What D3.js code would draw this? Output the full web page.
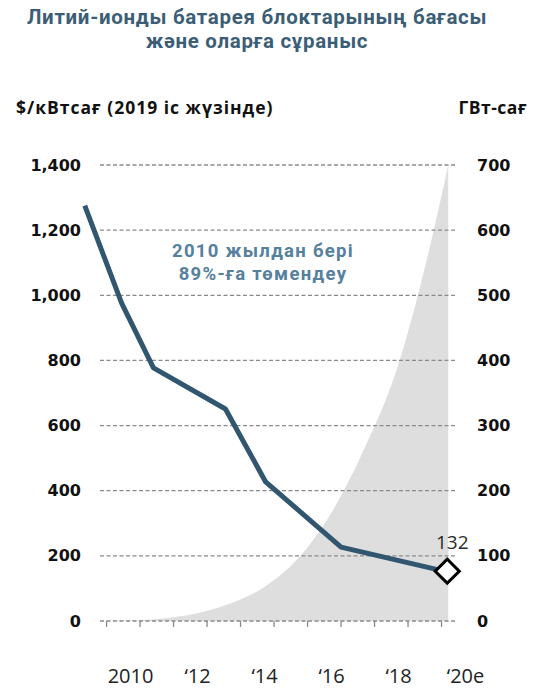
<!DOCTYPE html>
<html>
<head>
<meta charset="utf-8">
<script src="https://cdn.jsdelivr.net/npm/d3@7"></script>
<style>
  body { margin: 0; background: #fff; }
  svg { display: block; font-family: 'Open Sans', sans-serif; }
</style>
</head>
<body>
<svg id="chart" width="535" height="692"></svg>
<script>
const priceYears = [2008.65, 2009.75, 2010.7, 2012.85, 2014.05, 2016.3, 2019.5];
const priceValues = [1275, 976, 777, 651, 427, 227, 150];
const lastPriceLabel = '132';

// Demand, GWh (grey area)
const demandYears = [2008.6, 2010, 2011, 2012, 2013, 2014, 2015, 2016, 2017, 2018, 2019, 2019.5];
const demandValues = [0, 1, 4, 12, 27, 52, 95, 165, 265, 392, 585, 700];

const leftTicks = [0, 200, 400, 600, 800, 1000, 1200, 1400];
const rightTicks = [0, 100, 200, 300, 400, 500, 600, 700];
const tickYears = [2010, 2011, 2012, 2013, 2014, 2015, 2016, 2017, 2018, 2019, 2020];
const labelYears = [2010, 2012, 2014, 2016, 2018, 2020];
const labelTexts = ['2010', '\u201812', '\u201814', '\u201816', '\u201818', '\u201820e'];

const titleLines = ['Литий-ионды батарея блоктарының бағасы', 'және оларға сұраныс'];
const leftTitle = '$/кВтсағ (2019 іс жүзінде)';
const rightTitle = 'ГВт-сағ';
const noteLines = ['2010 жылдан бері', '89%-ға төмендеу'];

const svg = d3.select('#chart');
const numFont = "'DejaVu Sans', sans-serif";
const headFont = "Roboto, 'Open Sans', sans-serif";

const gridLeft = 100, gridRight = 457;
const x = d3.scaleLinear().domain([2010, 2020]).range([130, 465]);
const yLeft = d3.scaleLinear().domain([0, 1400]).range([621, 165]);
const yRight = d3.scaleLinear().domain([0, 700]).range([621, 165]);

// Title
svg.append('g').selectAll('text')
    .data(titleLines)
    .join('text')
    .attr('x', 257)
    .attr('y', (d, i) => 24 + i * 24)
    .attr('text-anchor', 'middle')
    .attr('fill', '#3b5e76')
    .style('font-family', headFont)
    .style('font-size', '20.5px')
    .style('font-weight', 700)
    .style('letter-spacing', '0.7px')
    .text(d => d);

// Axis titles
svg.append('text')
    .attr('x', 16).attr('y', 114)
    .style('font-size', '17.5px').style('font-weight', 700).style('letter-spacing', '1px')
    .attr('fill', '#111')
    .text(leftTitle);
svg.append('text')
    .attr('x', 527).attr('y', 114)
    .attr('text-anchor', 'end')
    .style('font-size', '17.5px').style('font-weight', 700).style('letter-spacing', '0.5px')
    .attr('fill', '#111')
    .text(rightTitle);

// Demand area
const demand = demandYears.map((d, i) => ({ year: d, value: demandValues[i] }));
svg.append('path')
    .datum(demand)
    .attr('fill', '#dedede')
    .attr('d', d3.area()
        .x(d => x(d.year))
        .y0(yRight(0))
        .y1(d => yRight(d.value))
        .curve(d3.curveMonotoneX));

// Gridlines
svg.append('g').selectAll('line')
    .data(leftTicks)
    .join('line')
    .attr('x1', gridLeft).attr('x2', gridRight)
    .attr('y1', d => yLeft(d)).attr('y2', d => yLeft(d))
    .attr('stroke', '#8a8a8a')
    .attr('stroke-width', 1.3)
    .attr('stroke-dasharray', '4,2.5');

// Year tick marks (sit a bit left of the year labels)
svg.append('g').selectAll('line')
    .data(tickYears)
    .join('line')
    .attr('x1', d => x(d - 0.7)).attr('x2', d => x(d - 0.7))
    .attr('y1', yLeft(0)).attr('y2', yLeft(0) + 6)
    .attr('stroke', '#8a8a8a')
    .attr('stroke-width', 1.3);

// Left axis
const leftAxis = svg.append('g')
    .attr('transform', `translate(${gridLeft},0)`)
    .call(d3.axisLeft(yLeft).tickValues(leftTicks).tickSize(0).tickPadding(19).tickFormat(d3.format(',')));
leftAxis.select('.domain').remove();
leftAxis.selectAll('text')
    .attr('fill', '#111').style('font-size', '16px').style('font-weight', 700)
    .style('font-family', numFont);

// Right axis
const rightAxis = svg.append('g')
    .attr('transform', `translate(${gridRight},0)`)
    .call(d3.axisRight(yRight).tickValues(rightTicks).tickSize(0).tickPadding(20));
rightAxis.select('.domain').remove();
rightAxis.selectAll('text')
    .attr('fill', '#111').style('font-size', '16px').style('font-weight', 700)
    .style('font-family', numFont);

// Bottom axis labels
const bottomAxis = svg.append('g')
    .attr('transform', `translate(0,${yLeft(0)})`)
    .call(d3.axisBottom(x).tickValues(labelYears).tickSize(0).tickPadding(48)
        .tickFormat((d, i) => labelTexts[i]));
bottomAxis.select('.domain').remove();
bottomAxis.selectAll('text')
    .attr('fill', '#222').style('font-size', '20px').style('font-weight', 400)
    .style('font-family', "'Open Sans', sans-serif");

// Price line
const price = priceYears.map((d, i) => ({ year: d, value: priceValues[i] }));
svg.append('path')
    .datum(price)
    .attr('fill', 'none')
    .attr('stroke', '#31566f')
    .attr('stroke-width', 5)
    .attr('stroke-linejoin', 'round')
    .attr('d', d3.line().x(d => x(d.year)).y(d => yLeft(d.value)));

// End marker
const last = price[price.length - 1];
svg.append('path')
    .attr('d', d3.symbol(d3.symbolSquare, 290)())
    .attr('transform', `translate(${x(last.year) - 1},${yLeft(last.value) - 1}) rotate(45)`)
    .attr('fill', '#fff')
    .attr('stroke', '#000')
    .attr('stroke-width', 3);
svg.append('text')
    .attr('x', x(last.year) + 4)
    .attr('y', yLeft(last.value) - 23)
    .attr('text-anchor', 'middle')
    .attr('fill', '#2a2a2a')
    .style('font-size', '19px')
    .style('font-weight', 400)
    .text(lastPriceLabel);

// Annotation
svg.append('g').selectAll('text')
    .data(noteLines)
    .join('text')
    .attr('x', 263)
    .attr('y', (d, i) => 257 + i * 22.5)
    .attr('text-anchor', 'middle')
    .attr('fill', '#55809e')
    .style('font-family', headFont)
    .style('font-size', '18.5px')
    .style('font-weight', 700)
    .style('letter-spacing', '1.3px')
    .text(d => d);
</script>
</body>
</html>
